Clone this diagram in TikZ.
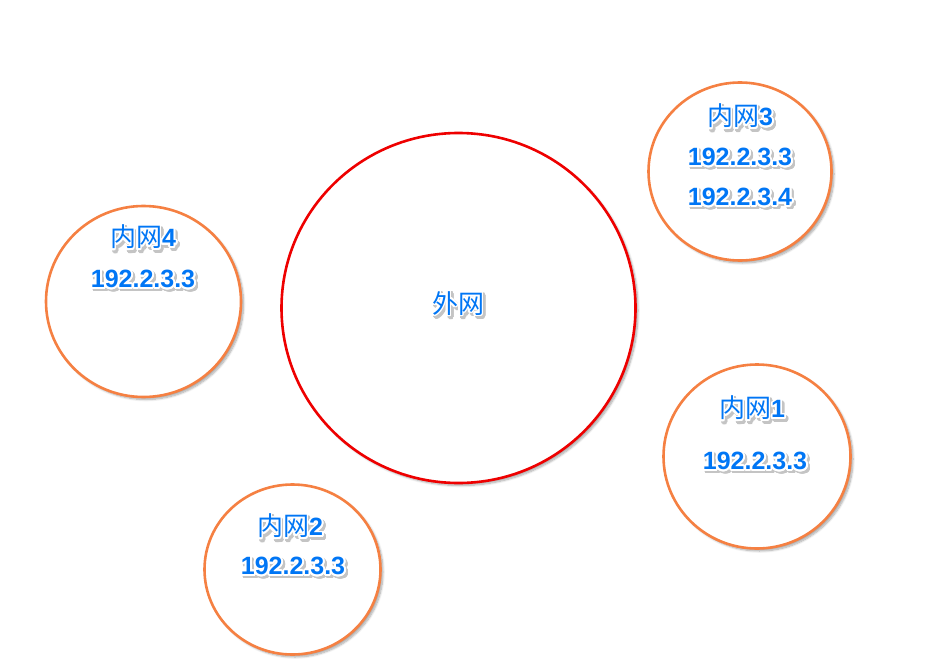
\documentclass[tikz,border=0pt]{standalone}
\usepackage{fontspec}
\setmainfont{Liberation Sans}
\newfontfamily\cjk{Noto Sans CJK SC}
\usepackage{contour}
\contourlength{1.8pt}
\contournumber{24}
\usetikzlibrary{shapes.geometric,shadows.blur}
\definecolor{ringorange}{RGB}{245,128,66}
\definecolor{ringred}{RGB}{238,0,0}
\definecolor{txtblue}{RGB}{0,118,245}
\definecolor{txtshadow}{RGB}{196,196,196}
\newcommand\lbltext[1]{\fontsize{25}{29}\selectfont\bfseries #1}
\newcommand\cjklbl[2]{\fontsize{26}{30}\selectfont{\cjk #1}\fontsize{25}{29}\selectfont\bfseries #2}
\tikzset{
  ring/.style={ellipse, inner sep=0pt, draw=ringorange, line width=2.6pt, fill=white,
    blur shadow={shadow xshift=2.5pt, shadow yshift=-2.5pt, shadow blur steps=8, shadow opacity=35}},
  bigring/.style={ring, draw=ringred},
  lbl/.style={inner sep=0pt, text=txtblue},
  lblshadow/.style={inner sep=0pt, text=txtshadow},
}
\newcommand\fxnode[3]{%
  \node[lblshadow] (#1s) at ([shift={(2.2,2.5)}]#2) {\contour{txtshadow}{#3}};
  \node[lbl] (#1) at (#2) {\contour{white}{#3}};}
\begin{document}
\begin{tikzpicture}[x=1pt,y=-1pt]
\useasboundingbox (0,0) rectangle (941,671);
\node[bigring, minimum width=354pt, minimum height=350pt] (wan) at (458.5,308) {};
\node[ring, minimum width=183pt, minimum height=178pt] (n3) at (740,171.5) {};
\node[ring, minimum width=195pt, minimum height=191pt] (n4) at (143.5,301.5) {};
\node[ring, minimum width=187pt, minimum height=184pt] (n1) at (757,456.5) {};
\node[ring, minimum width=176pt, minimum height=170pt] (n2) at (292.5,569.5) {};
\fxnode{twan}{458,304}{\cjklbl{外网}{}}
\fxnode{t3a}{740,117}{\cjklbl{内网}{3}}
\fxnode{t3b}{740,158}{\lbltext{192.2.3.3}}
\fxnode{t3c}{740,198}{\lbltext{192.2.3.4}}
\fxnode{t4a}{143,238}{\cjklbl{内网}{4}}
\fxnode{t4b}{143,280}{\lbltext{192.2.3.3}}
\fxnode{t1a}{752,409}{\cjklbl{内网}{1}}
\fxnode{t1b}{755,462}{\lbltext{192.2.3.3}}
\fxnode{t2a}{290,527}{\cjklbl{内网}{2}}
\fxnode{t2b}{293,567}{\lbltext{192.2.3.3}}
\end{tikzpicture}
\end{document}
